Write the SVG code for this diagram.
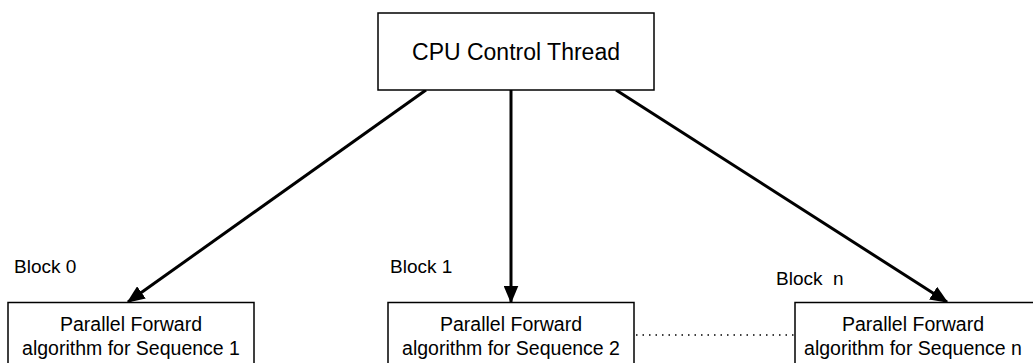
<svg xmlns="http://www.w3.org/2000/svg" width="1033" height="363" viewBox="0 0 1033 363">
<style>
.box{fill:#fff;stroke:#000;stroke-width:1.5}
.t{font-family:"Liberation Sans",Arial,sans-serif;fill:#000;text-anchor:middle}
.lbl{font-family:"Liberation Sans",Arial,sans-serif;fill:#000;font-size:19px}
.edge{stroke:#000;stroke-width:3;fill:none}
</style>
<defs>
<marker id="ah" markerWidth="6" markerHeight="5" refX="5.5" refY="2.5" orient="auto" markerUnits="strokeWidth">
<path d="M0,0 L6,2.5 L0,5 Z" fill="#000"/>
</marker>
</defs>
<rect width="1033" height="363" fill="#fff"/>
<g id="connectors">
<line class="edge" x1="426" y1="90" x2="128" y2="302" marker-end="url(#ah)"/>
<line class="edge" x1="511" y1="90" x2="511" y2="302" marker-end="url(#ah)"/>
<line class="edge" x1="616" y1="90" x2="947" y2="302" marker-end="url(#ah)"/>
<line x1="636" y1="335" x2="794" y2="335" stroke="#000" stroke-width="1.5" stroke-dasharray="1.5,5"/>
</g>
<g id="cpu">
<rect class="box" x="378" y="13" width="276" height="77"/>
<text class="t" x="516" y="60" font-size="23">CPU Control Thread</text>
</g>
<g id="block0">
<text class="lbl" x="14" y="273">Block 0</text>
<rect class="box" x="8" y="302.5" width="246" height="80"/>
<text class="t" x="131" y="331" font-size="19.5">Parallel Forward</text>
<text class="t" x="131" y="355" font-size="19.5">algorithm for Sequence 1</text>
</g>
<g id="block1">
<text class="lbl" x="390" y="273">Block 1</text>
<rect class="box" x="388" y="302.5" width="246" height="80"/>
<text class="t" x="511" y="331" font-size="19.5">Parallel Forward</text>
<text class="t" x="511" y="355" font-size="19.5">algorithm for Sequence 2</text>
</g>
<g id="blockn">
<text class="lbl" x="776" y="285" xml:space="preserve">Block  n</text>
<rect class="box" x="795" y="302.5" width="246" height="80"/>
<text class="t" x="913" y="331" font-size="19.5">Parallel Forward</text>
<text class="t" x="913" y="355" font-size="19.5">algorithm for Sequence n</text>
</g>
</svg>
